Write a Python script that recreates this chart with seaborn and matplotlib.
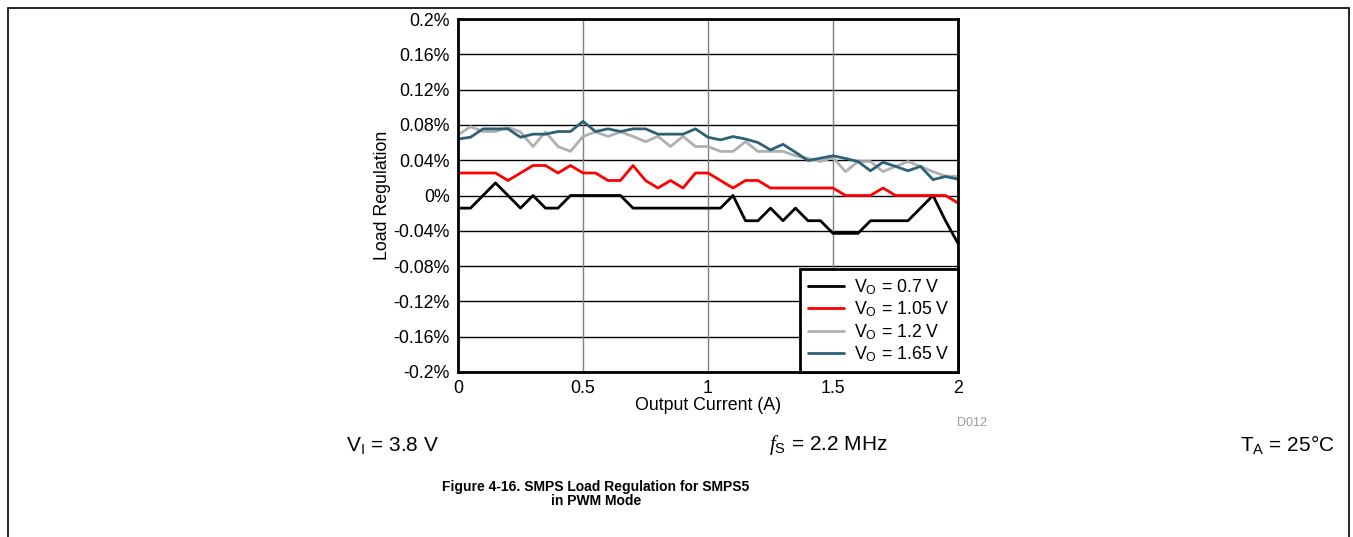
import numpy as np
import pandas as pd
import matplotlib
matplotlib.use("Agg")
import matplotlib.pyplot as plt
import seaborn as sns
from matplotlib.lines import Line2D
from matplotlib.patches import Rectangle

# ------------------------------
# Data (load regulation in %)
# ------------------------------
current = [0.00, 0.05, 0.10, 0.15, 0.20, 0.25, 0.30, 0.35, 0.40, 0.45,
           0.50, 0.55, 0.60, 0.65, 0.70, 0.75, 0.80, 0.85, 0.90, 0.95,
           1.00, 1.05, 1.10, 1.15, 1.20, 1.25, 1.30, 1.35, 1.40, 1.45,
           1.50, 1.55, 1.60, 1.65, 1.70, 1.75, 1.80, 1.85, 1.90, 1.95, 2.00]

vo_070 = [-0.0143, -0.0143, 0.0, 0.0143, 0.0, -0.0143, 0.0, -0.0143, -0.0143, 0.0,
          0.0, 0.0, 0.0, 0.0, -0.0143, -0.0143, -0.0143, -0.0143, -0.0143, -0.0143,
          -0.0143, -0.0143, 0.0, -0.0286, -0.0286, -0.0143, -0.0286, -0.0143, -0.0286, -0.0286,
          -0.0429, -0.0429, -0.0429, -0.0286, -0.0286, -0.0286, -0.0286, -0.0143, 0.0, -0.0286, -0.0543]

vo_105 = [0.0255, 0.0255, 0.0255, 0.0255, 0.017, 0.0255, 0.034, 0.034, 0.0255, 0.034,
          0.0255, 0.0255, 0.017, 0.017, 0.034, 0.017, 0.0085, 0.017, 0.0085, 0.0255,
          0.0255, 0.017, 0.0085, 0.017, 0.017, 0.0085, 0.0085, 0.0085, 0.0085, 0.0085,
          0.0085, 0.0, 0.0, 0.0, 0.0085, 0.0, 0.0, 0.0, 0.0, 0.0, -0.0085]

vo_120 = [0.0687, 0.078, 0.0725, 0.0725, 0.0775, 0.072, 0.0555, 0.072, 0.0555, 0.050,
          0.067, 0.072, 0.067, 0.072, 0.067, 0.061, 0.067, 0.0555, 0.067, 0.0555,
          0.0555, 0.050, 0.050, 0.061, 0.050, 0.050, 0.050, 0.045, 0.042, 0.0385,
          0.043, 0.027, 0.0385, 0.0385, 0.027, 0.033, 0.0385, 0.033, 0.027, 0.022, 0.0215]

vo_165 = [0.064, 0.066, 0.0755, 0.0755, 0.0755, 0.066, 0.0695, 0.0695, 0.0725, 0.0725,
          0.084, 0.0725, 0.0755, 0.0725, 0.0755, 0.0755, 0.0695, 0.0695, 0.0695, 0.0755,
          0.066, 0.063, 0.0668, 0.064, 0.060, 0.0517, 0.058, 0.049, 0.0396, 0.0423,
          0.045, 0.042, 0.0385, 0.028, 0.0377, 0.033, 0.028, 0.033, 0.018, 0.0215, 0.0185]

series_names = ["0.7", "1.05", "1.2", "1.65"]
series_colors = ["#000000", "#ff0000", "#b0b0b0", "#2e6078"]

y_ticks = [-0.2, -0.16, -0.12, -0.08, -0.04, 0.0, 0.04, 0.08, 0.12, 0.16, 0.2]
y_labels = ["-0.2%", "-0.16%", "-0.12%", "-0.08%", "-0.04%", "0%",
            "0.04%", "0.08%", "0.12%", "0.16%", "0.2%"]
x_ticks = [0, 0.5, 1, 1.5, 2]
x_labels = ["0", "0.5", "1", "1.5", "2"]

df = pd.DataFrame({
    "current": current * 4,
    "reg": vo_070 + vo_105 + vo_120 + vo_165,
    "vo": sum([[n] * len(current) for n in series_names], []),
})

# ------------------------------
# Plot
# ------------------------------
sns.set_style("white")
plt.rcParams["font.family"] = ["Liberation Sans", "DejaVu Sans"]
plt.rcParams["mathtext.fontset"] = "custom"
plt.rcParams["mathtext.rm"] = "Liberation Sans"
plt.rcParams["mathtext.it"] = "Liberation Serif:italic"
plt.rcParams["text.color"] = "black"
plt.rcParams["axes.labelcolor"] = "black"
plt.rcParams["xtick.color"] = "black"
plt.rcParams["ytick.color"] = "black"

fig = plt.figure(figsize=(13.53, 5.37), dpi=100)
ax = fig.add_axes([458 / 1353, 165 / 537, 500 / 1353, 353 / 537])

sns.lineplot(data=df, x="current", y="reg", hue="vo", palette=series_colors,
             hue_order=series_names, linewidth=2, legend=False, ax=ax, zorder=3)

fs = 12.8
ax.set_xlim(0, 2)
ax.set_ylim(-0.2, 0.2)
ax.set_xticks(x_ticks)
ax.set_xticklabels(x_labels, fontsize=fs)
ax.set_yticks(y_ticks)
ax.set_yticklabels(y_labels, fontsize=fs)
ax.tick_params(length=0, pad=6)
for y in y_ticks:
    ax.axhline(y, color="black", linewidth=1, zorder=1)
for x in x_ticks:
    ax.axvline(x, color="#808080", linewidth=1, zorder=1)
for s in ax.spines.values():
    s.set_visible(True)
    s.set_color("black")
    s.set_linewidth(2)
    s.set_zorder(5)

ax.set_xlabel("Output Current (A)", fontsize=fs, labelpad=0)
ax.set_ylabel("Load Regulation", fontsize=fs, labelpad=2)

handles = [Line2D([0], [0], color=c, linewidth=2) for c in series_colors]
labels = [r"V$_\mathregular{O}$ = " + n + " V" for n in series_names]
leg = ax.legend(handles, labels, loc="lower right", fontsize=fs, frameon=True,
                fancybox=False, borderaxespad=0, handlelength=2.0,
                handletextpad=0.6, labelspacing=0.15, borderpad=0.45)
leg.get_frame().set_edgecolor("black")
leg.get_frame().set_linewidth(2)
leg.get_frame().set_alpha(1)
leg.set_zorder(6)

fig.text(972 / 1353, 1 - 423 / 537, "D012", fontsize=9, color="#999999",
         ha="center", va="center")
fig.text(393 / 1353, 1 - 445 / 537, r"V$_\mathregular{I}$ = 3.8 V", fontsize=15,
         ha="center", va="center")
fig.text(828 / 1353, 1 - 445 / 537, r"$f$$_\mathregular{S}$ = 2.2 MHz", fontsize=15,
         ha="center", va="center")
fig.text(1335 / 1353, 1 - 445 / 537, r"T$_\mathregular{A}$ = 25°C", fontsize=15,
         ha="right", va="center")
fig.text(596 / 1353, 1 - 494 / 537, "Figure 4-16. SMPS Load Regulation for SMPS5\nin PWM Mode",
         fontsize=10, fontweight="bold", ha="center", va="center", linespacing=0.95)

# page border
fig.add_artist(Rectangle((8 / 1353, -0.1), 1341 / 1353, 1.1 - 8 / 537,
                         transform=fig.transFigure, fill=False,
                         edgecolor="black", linewidth=1.2))

fig.savefig("out.png", dpi=100)
